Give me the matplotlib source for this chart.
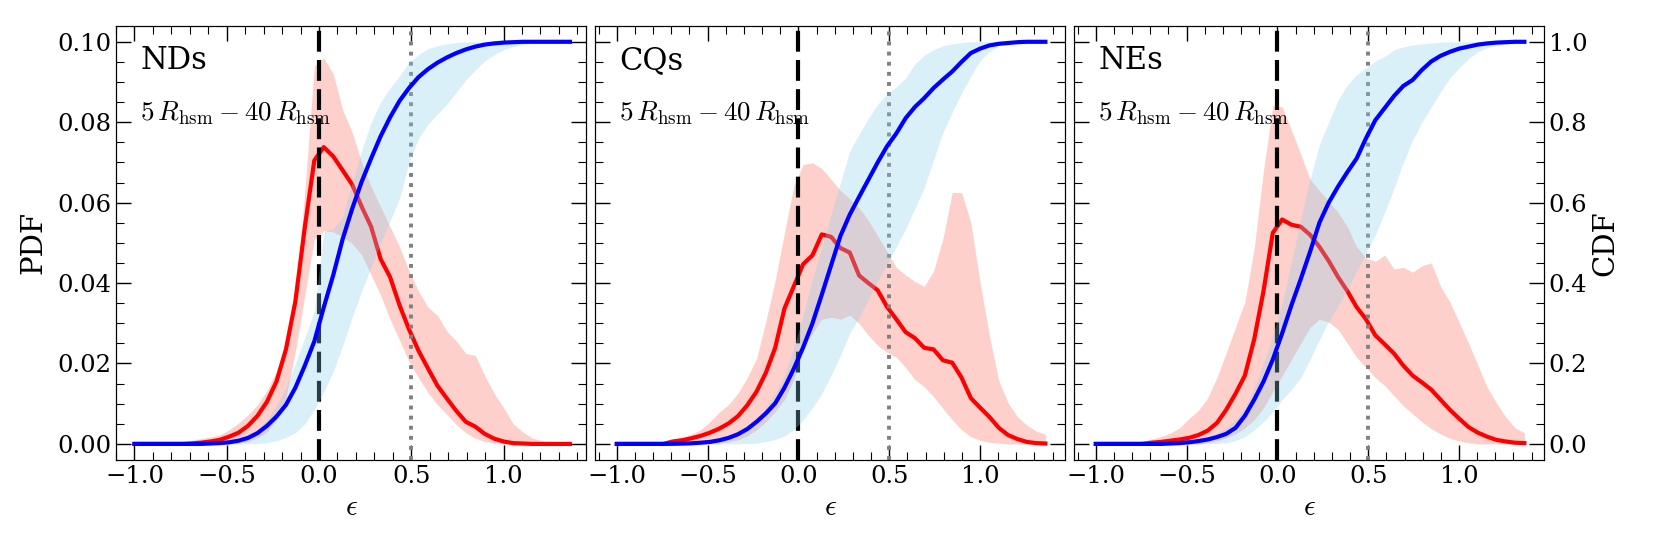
import numpy as np
import matplotlib
matplotlib.use('Agg')
import matplotlib.pyplot as plt
from matplotlib.ticker import MultipleLocator

plt.rcParams['font.family'] = 'serif'
plt.rcParams['font.serif'] = ['DejaVu Serif']
plt.rcParams['mathtext.fontset'] = 'cm'

# ellipticity grid (47 bins from -1.0 to 1.36)
eps = np.linspace(-1.0, 1.36, 47)

panel_names = ['NDs', 'CQs', 'NEs']
radius_label = r'$5\,R_{\rm hsm} - 40\,R_{\rm hsm}$'

# ---------------- NDs ----------------
nd_pdf_med = [0, 0, 0, 0, 0, 0, 0.0001, 0.0003, 0.0006, 0.001, 0.0018, 0.0028, 0.0045, 0.007, 0.0105,
              0.0155, 0.0235, 0.0355, 0.054, 0.0705, 0.0738, 0.0715, 0.068, 0.0645, 0.059, 0.054,
              0.046, 0.0415, 0.0345, 0.0285, 0.0232, 0.0188, 0.0145, 0.0113, 0.0082, 0.0055, 0.0043,
              0.0025, 0.0013, 0.0006, 0.0002, 0.0001, 0, 0, 0, 0, 0]
nd_pdf_hi = [0, 0, 0, 0, 0.0002, 0.0005, 0.0009, 0.0013, 0.0017, 0.0022, 0.0035, 0.0052, 0.0072, 0.0098,
             0.0133, 0.018, 0.025, 0.036, 0.063, 0.094, 0.096, 0.092, 0.083, 0.0775, 0.070, 0.064,
             0.059, 0.054, 0.049, 0.043, 0.038, 0.034, 0.032, 0.028, 0.0256, 0.0225, 0.022, 0.017,
             0.0125, 0.009, 0.005, 0.003, 0.0015, 0.0008, 0.0004, 0.0002, 0.0001]
nd_pdf_lo = [0, 0, 0, 0, 0, 0, 0, 0, 0, 0, 0, 0.0002, 0.0006, 0.0015, 0.003, 0.006, 0.0115, 0.023, 0.037,
             0.051, 0.053, 0.0527, 0.0515, 0.0498, 0.047, 0.042, 0.037, 0.031, 0.0258, 0.0205, 0.0165,
             0.0128, 0.0098, 0.0073, 0.0048, 0.0028, 0.0014, 0.0006, 0.0002, 0, 0, 0, 0, 0, 0, 0, 0]
nd_cdf_med = [0, 0, 0, 0, 0, 0, 0, 0, 0.001, 0.002, 0.004, 0.008, 0.015, 0.027, 0.045, 0.068, 0.097,
              0.14, 0.195, 0.255, 0.34, 0.42, 0.51, 0.585, 0.652, 0.71, 0.765, 0.812, 0.853, 0.885, 0.912,
              0.932, 0.948, 0.961, 0.972, 0.981, 0.988, 0.993, 0.996, 0.998, 0.999, 1, 1, 1, 1, 1, 1]
nd_cdf_hi = [0, 0, 0, 0, 0, 0, 0, 0, 0.001, 0.003, 0.006, 0.011, 0.02, 0.035, 0.06, 0.095, 0.14, 0.2,
             0.265, 0.33, 0.528, 0.535, 0.565, 0.65, 0.73, 0.80, 0.85, 0.885, 0.915, 0.95, 0.968,
             0.983, 0.99, 0.995, 0.998, 1, 1, 1, 1, 1, 1, 1, 1, 1, 1, 1, 1]
nd_cdf_lo = [0, 0, 0, 0, 0, 0, 0, 0, 0, 0, 0, 0, 0.0005, 0.001, 0.003, 0.008, 0.016, 0.028, 0.05, 0.085,
             0.13, 0.18, 0.245, 0.315, 0.38, 0.44, 0.50, 0.555, 0.61, 0.70, 0.76, 0.795, 0.82, 0.845,
             0.875, 0.905, 0.93, 0.952, 0.968, 0.98, 0.988, 0.993, 0.997, 0.999, 1, 1, 1]

# ---------------- CQs ----------------
cq_pdf_med = [0, 0, 0, 0, 0, 0, 0.0006, 0.0009, 0.0014, 0.002, 0.0028, 0.0038, 0.0051, 0.0069, 0.0096,
              0.013, 0.0177, 0.0239, 0.0337, 0.0392, 0.0447, 0.0469, 0.0521, 0.0515, 0.0487, 0.0476,
              0.0419, 0.040, 0.0382, 0.0341, 0.031, 0.0278, 0.0263, 0.0239, 0.0235, 0.0208, 0.0202,
              0.0165, 0.0114, 0.009, 0.0067, 0.004, 0.0022, 0.0012, 0.0005, 0.0002, 0.0001]
cq_pdf_hi = [0, 0, 0, 0, 0.0003, 0.0007, 0.0012, 0.0017, 0.0024, 0.0035, 0.0055, 0.0079, 0.0098, 0.0126,
             0.0165, 0.0212, 0.0306, 0.0407, 0.0525, 0.0642, 0.0695, 0.0699, 0.0685, 0.0658, 0.063,
             0.061, 0.0587, 0.0556, 0.0517, 0.0478, 0.0439, 0.042, 0.0404, 0.0392, 0.043, 0.051,
             0.0625, 0.0625, 0.055, 0.040, 0.0267, 0.0157, 0.0102, 0.0067, 0.0047, 0.0032, 0.0024]
cq_pdf_lo = [0, 0, 0, 0, 0, 0, 0, 0, 0, 0, 0, 0.0002, 0.0005, 0.001, 0.002, 0.0035, 0.0055, 0.008, 0.011,
             0.016, 0.024, 0.0275, 0.031, 0.0315, 0.031, 0.032, 0.030, 0.027, 0.0245, 0.0228, 0.0216,
             0.019, 0.016, 0.0142, 0.0118, 0.0088, 0.006, 0.0035, 0.0018, 0.0009, 0.0004, 0.0002,
             0, 0, 0, 0, 0]
cq_cdf_med = [0, 0, 0, 0, 0, 0, 0.0003, 0.0007, 0.0015, 0.003, 0.005, 0.009, 0.015, 0.024, 0.037, 0.055,
              0.076, 0.101, 0.14, 0.187, 0.24, 0.30, 0.371, 0.444, 0.517, 0.57, 0.614, 0.657, 0.70,
              0.74, 0.772, 0.81, 0.838, 0.86, 0.885, 0.906, 0.926, 0.95, 0.972, 0.983, 0.991, 0.995,
              0.997, 0.999, 1, 1, 1]
cq_cdf_hi = [0, 0, 0, 0, 0, 0, 0, 0, 0.002, 0.004, 0.006, 0.01, 0.016, 0.026, 0.042, 0.064, 0.09, 0.125,
             0.17, 0.24, 0.32, 0.41, 0.49, 0.57, 0.65, 0.728, 0.77, 0.81, 0.845, 0.87, 0.888, 0.91,
             0.945, 0.967, 0.98, 0.99, 0.995, 0.998, 1, 1, 1, 1, 1, 1, 1, 1, 1]
cq_cdf_lo = [0, 0, 0, 0, 0, 0, 0, 0, 0, 0, 0, 0, 0, 0, 0.001, 0.002, 0.006, 0.011, 0.02, 0.035, 0.06,
             0.09, 0.125, 0.17, 0.22, 0.275, 0.315, 0.36, 0.405, 0.448, 0.49, 0.535, 0.585, 0.637,
             0.706, 0.775, 0.825, 0.872, 0.915, 0.953, 0.976, 0.99, 0.996, 0.999, 1, 1, 1]

# ---------------- NEs ----------------
ne_pdf_med = [0, 0, 0, 0, 0, 0, 0.0003, 0.0005, 0.0008, 0.0011, 0.0015, 0.0022, 0.0033, 0.0052, 0.0085,
              0.0125, 0.017, 0.026, 0.038, 0.0525, 0.0558, 0.0545, 0.054, 0.052, 0.049, 0.0455,
              0.0415, 0.038, 0.034, 0.031, 0.027, 0.0248, 0.0225, 0.0195, 0.017, 0.0153, 0.0135,
              0.011, 0.0085, 0.0063, 0.0042, 0.0028, 0.0018, 0.001, 0.0006, 0.0003, 0.0002]
ne_pdf_hi = [0, 0, 0, 0.0002, 0.0004, 0.0007, 0.0012, 0.0018, 0.0027, 0.004, 0.0063, 0.0083, 0.0114,
             0.0165, 0.0227, 0.029, 0.0353, 0.0486, 0.068, 0.0841, 0.0838, 0.078, 0.072, 0.0658,
             0.063, 0.0603, 0.0576, 0.054, 0.049, 0.0462, 0.0454, 0.047, 0.0435, 0.0439, 0.0427,
             0.0443, 0.045, 0.0392, 0.0353, 0.0302, 0.0251, 0.0196, 0.0141, 0.0102, 0.0067, 0.004,
             0.0028]
ne_pdf_lo = [0, 0, 0, 0, 0, 0, 0, 0, 0, 0, 0, 0, 0.0003, 0.0008, 0.0015, 0.0025, 0.004, 0.006, 0.009,
             0.013, 0.017, 0.021, 0.025, 0.029, 0.031, 0.0303, 0.0285, 0.025, 0.0215, 0.019, 0.0165,
             0.0145, 0.012, 0.0095, 0.0075, 0.0055, 0.0038, 0.0025, 0.0014, 0.0007, 0.0003, 0, 0, 0,
             0, 0, 0]
ne_cdf_med = [0, 0, 0, 0, 0, 0, 0, 0, 0.001, 0.002, 0.004, 0.007, 0.011, 0.017, 0.025, 0.04, 0.07, 0.11,
              0.155, 0.21, 0.275, 0.345, 0.41, 0.478, 0.55, 0.60, 0.64, 0.676, 0.71, 0.76, 0.805,
              0.835, 0.865, 0.89, 0.905, 0.93, 0.951, 0.965, 0.975, 0.983, 0.988, 0.993, 0.996,
              0.998, 0.999, 1, 1]
ne_cdf_hi = [0, 0, 0, 0, 0, 0, 0, 0, 0.002, 0.004, 0.007, 0.011, 0.017, 0.026, 0.04, 0.06, 0.09, 0.14,
             0.2, 0.27, 0.35, 0.45, 0.56, 0.66, 0.745, 0.80, 0.855, 0.893, 0.918, 0.935, 0.953, 0.963,
             0.98, 0.987, 0.992, 0.995, 0.997, 0.999, 1, 1, 1, 1, 1, 1, 1, 1, 1]
ne_cdf_lo = [0, 0, 0, 0, 0, 0, 0, 0, 0, 0, 0, 0, 0, 0.001, 0.003, 0.008, 0.018, 0.035, 0.055, 0.08,
             0.11, 0.135, 0.165, 0.21, 0.26, 0.305, 0.345, 0.383, 0.43, 0.475, 0.52, 0.575, 0.635,
             0.70, 0.755, 0.80, 0.838, 0.875, 0.91, 0.935, 0.958, 0.975, 0.985, 0.991, 0.995, 0.998,
             0.999]

pdf_meds = [nd_pdf_med, cq_pdf_med, ne_pdf_med]
pdf_his = [nd_pdf_hi, cq_pdf_hi, ne_pdf_hi]
pdf_los = [nd_pdf_lo, cq_pdf_lo, ne_pdf_lo]
cdf_meds = [nd_cdf_med, cq_cdf_med, ne_cdf_med]
cdf_his = [nd_cdf_hi, cq_cdf_hi, ne_cdf_hi]
cdf_los = [nd_cdf_lo, cq_cdf_lo, ne_cdf_lo]

W, H = 1661, 554
fig = plt.figure(figsize=(W / 100, H / 100), dpi=100)
lefts = [116, 595, 1074]
ax_w = 470
ax_top, ax_bot = 25.7, 460
xlims = [(-1.10, 1.447), (-1.12, 1.468), (-1.12, 1.468)]

for i in range(3):
    ax = fig.add_axes([lefts[i] / W, (H - ax_bot) / H, ax_w / W, (ax_bot - ax_top) / H])
    ax.fill_between(eps, pdf_los[i], pdf_his[i], color='salmon', alpha=0.37, lw=0)
    ax.plot(eps, pdf_meds[i], color='red', lw=3)
    ax.axvline(0.0, color='black', lw=3, ls=(0, (5, 2)))
    ax.axvline(0.5, color='gray', lw=2.8, ls=(0, (1, 1.6)))

    ax2 = ax.twinx()
    ax2.fill_between(eps, cdf_los[i], cdf_his[i], color='skyblue', alpha=0.3, lw=0)
    ax2.plot(eps, cdf_meds[i], color='blue', lw=3)

    ax.set_xlim(*xlims[i])
    ax.set_ylim(-0.004, 0.104)
    ax2.set_ylim(-0.04, 1.04)

    ax.xaxis.set_major_locator(MultipleLocator(0.5))
    ax.xaxis.set_minor_locator(MultipleLocator(0.1))
    ax.yaxis.set_major_locator(MultipleLocator(0.02))
    ax.yaxis.set_minor_locator(MultipleLocator(0.005))
    ax2.yaxis.set_major_locator(MultipleLocator(0.2))
    ax2.yaxis.set_minor_locator(MultipleLocator(0.05))
    ax.yaxis.set_major_formatter(plt.FormatStrFormatter('%.2f'))
    ax2.yaxis.set_major_formatter(plt.FormatStrFormatter('%.1f'))

    ax.tick_params(which='both', direction='in', top=True, bottom=True, left=True, right=False)
    ax.tick_params(which='major', length=11, width=1.0, labelsize=17.5)
    ax.tick_params(which='minor', length=5.5, width=0.8)
    ax2.tick_params(which='both', direction='in', right=True)
    ax2.tick_params(which='major', length=11, width=1.0, labelsize=17.5)
    ax2.tick_params(which='minor', length=5.5, width=0.8)

    if i > 0:
        ax.tick_params(labelleft=False)
    else:
        ax.set_ylabel('PDF', fontsize=21, labelpad=7)
    if i < 2:
        ax2.tick_params(labelright=False)
    else:
        ax2.set_ylabel('CDF', fontsize=21, labelpad=3)

    ax.set_xlabel(r'$\epsilon$', fontsize=21)

    ax.text(0.052, 0.90, panel_names[i], transform=ax.transAxes, fontsize=22,
            ha='left', va='baseline')
    ax.text(0.052, 0.783, radius_label, transform=ax.transAxes, fontsize=19.5,
            ha='left', va='baseline')

fig.savefig('out.png', dpi=100)
